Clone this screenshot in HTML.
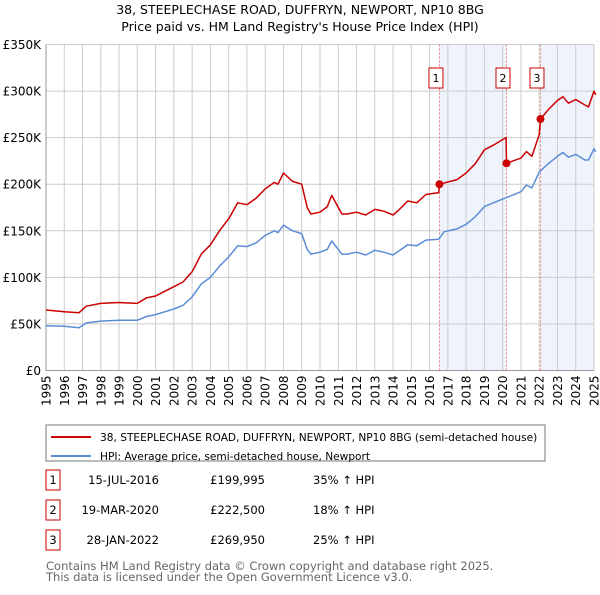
<!DOCTYPE html>
<html><head><meta charset="utf-8"><style>
body{margin:0;background:#fff;font-family:"Liberation Sans","DejaVu Sans",sans-serif;}
svg text{font-family:"DejaVu Sans","Liberation Sans",sans-serif;}
</style></head><body>
<svg id="c" width="600" height="590" viewBox="0 0 600 590" xmlns="http://www.w3.org/2000/svg">
<text x="300" y="14" text-anchor="middle" font-size="12.5">38, STEEPLECHASE ROAD, DUFFRYN, NEWPORT, NP10 8BG</text>
<text x="300" y="31" text-anchor="middle" font-size="12.5">Price paid vs. HM Land Registry's House Price Index (HPI)</text>
<g id="plot"></g>
<rect x="46" y="425" width="499" height="36" fill="#fff" stroke="#777"/>
<line x1="51" y1="437" x2="91" y2="437" stroke="#cc0000" stroke-width="2"/>
<text x="100" y="441" font-size="10.6">38, STEEPLECHASE ROAD, DUFFRYN, NEWPORT, NP10 8BG (semi-detached house)</text>
<line x1="51" y1="456" x2="91" y2="456" stroke="#5b8dd6" stroke-width="2"/>
<text x="100" y="460" font-size="10.6">HPI: Average price, semi-detached house, Newport</text>
<g id="rows" font-size="11.5"></g>
<text x="46" y="570" font-size="11.5" fill="#666">Contains HM Land Registry data © Crown copyright and database right 2025.</text>
<text x="46" y="581" font-size="11.5" fill="#666">This data is licensed under the Open Government Licence v3.0.</text>
</svg>
<script>
const yTicks=[0,50,100,150,200,250,300,350];
const years=[1995,1996,1997,1998,1999,2000,2001,2002,2003,2004,2005,2006,2007,2008,2009,2010,2011,2012,2013,2014,2015,2016,2017,2018,2019,2020,2021,2022,2023,2024,2025];
const hpiT=[1995,1996,1996.8,1997.2,1998,1999,2000,2000.5,2001,2001.5,2002,2002.5,2003,2003.5,2004,2004.5,2005,2005.5,2006,2006.5,2007,2007.5,2007.7,2008,2008.5,2009,2009.3,2009.5,2010,2010.4,2010.64,2011.2,2011.5,2012,2012.5,2013,2013.5,2014,2014.3,2014.8,2015.3,2015.8,2016.5,2016.8,2017.5,2018,2018.5,2019,2019.5,2020,2020.5,2021,2021.3,2021.6,2022,2022.5,2023,2023.3,2023.6,2024,2024.5,2024.7,2025,2025.1];
const hpiV=[48,47.5,46,51,53,54,54,58,60,63,66,70,79,93,100,112,122,134,133,137,145,150,148,156,150,147,130,125,127,130,139,125,125,127,124,129,127,124,128,135,134,140,141,149,152,157,165,176,180,184,188,192,199,196,213,222,230,234,229,232,226,226,238,235];
const redT=[1995,1996,1996.8,1997.2,1998,1999,2000,2000.5,2001,2001.5,2002,2002.5,2003,2003.5,2004,2004.5,2005,2005.5,2006,2006.5,2007,2007.5,2007.7,2008,2008.5,2009,2009.3,2009.5,2010,2010.4,2010.64,2011.2,2011.5,2012,2012.5,2013,2013.5,2014,2014.3,2014.8,2015.3,2015.8,2016.5,2016.54,2017.5,2018,2018.5,2019,2019.5,2020,2020.19,2020.21,2021,2021.3,2021.6,2022,2022.07,2022.5,2023,2023.3,2023.6,2024,2024.5,2024.7,2025,2025.1];
const redV=[65,63,62,69,72,73,72,78,80,85,90,95,106,125,135,150,163,180,178,185,195,202,200,212,203,200,175,168,170,176,188,168,168,170,167,173,171,167,172,182,180,189,191,200,205,212,222,237,242,248,250,222.5,228,235,230,253,270,280,290,294,287,291,285,283,300,296];
const saleT=[2016.54,2020.21,2022.07];
const saleV=[199.995,222.5,269.95];
const saleLabels=["1","2","3"];
const saleDates=["15-JUL-2016","19-MAR-2020","28-JAN-2022"];
const salePrices=["£199,995","£222,500","£269,950"];
const saleHpi=["35% ↑ HPI","18% ↑ HPI","25% ↑ HPI"];
const NS="http://www.w3.org/2000/svg";
const X0=46,X1=594,Y0=370.5,Y1=44.5;
const xs=t=>X0+(t-1995)/30*(X1-X0);
const ys=v=>Y0-v/350*(Y0-Y1);
function mk(tag,attrs,parent){const e=document.createElementNS(NS,tag);for(const k in attrs)e.setAttribute(k,attrs[k]);parent.appendChild(e);return e;}
const g=document.getElementById('plot');
const shA=mk('rect',{x:xs(saleT[0]),y:Y1,width:xs(saleT[1])-xs(saleT[0]),height:Y0-Y1,fill:'#eef3fc'},g);


const shB=mk('rect',{x:xs(saleT[2]),y:Y1,width:X1-xs(saleT[2]),height:Y0-Y1,fill:'#eef3fc'},g);


yTicks.forEach(v=>{
 const l=mk('line',{x1:X0,x2:X1,y1:ys(v),y2:ys(v),stroke:'#cccccc'},g);
 
 
 const t=mk('text',{x:X0-5,y:ys(v)+4.5,'text-anchor':'end','font-size':'12'},g);
 t.textContent=v===0?'£0':'£'+v+'K';
 
 
});
years.forEach(y=>{
 const l=mk('line',{x1:xs(y),x2:xs(y),y1:Y1,y2:Y0,stroke:'#cccccc'},g);
 
 
 const t=mk('text',{x:0,y:0,'font-size':'12','text-anchor':'end',transform:`translate(${xs(y)+4.5},${Y0+5}) rotate(-90)`},g);
 t.textContent=y;
 
 
});
const ax=mk('path',{d:`M${X0},${Y1}V${Y0}H${X1}`,stroke:'#999',fill:'none'},g);


saleT.forEach((t,i)=>{
 const l=mk('line',{x1:xs(t),x2:xs(t),y1:Y1,y2:Y0,stroke:'#e06060','stroke-dasharray':'2,2','stroke-width':'0.8'},g);
 
 
});
function line(T,V,col,name){
 const d=T.map((t,i)=>(i?'L':'M')+xs(t).toFixed(1)+','+ys(V[i]).toFixed(1)).join('');
 const p=mk('path',{d:d,stroke:col,'stroke-width':'1.5',fill:'none','stroke-linejoin':'round'},g);
 
 
}
line(hpiT,hpiV,'#5b8dd6','hpi-line');
line(redT,redV,'#cc0000','property-price-line');
saleT.forEach((t,i)=>{
 const c=mk('circle',{cx:xs(t),cy:ys(saleV[i]),r:4,fill:'#cc0000'},g);
 
 
 const r=mk('rect',{x:xs(t)-10.5,y:68,width:14,height:20,fill:'#fff',stroke:'#cc0000'},g);
 
 
 const tx=mk('text',{x:xs(t)-3.5,y:82,'text-anchor':'middle','font-size':'11'},g);
 tx.textContent=saleLabels[i];
 
 
});
const rows=document.getElementById('rows');
saleDates.forEach((d,i)=>{
 const y=483+i*30;
 const r=mk('rect',{x:46,y:y-13,width:14,height:20,fill:'#fff',stroke:'#cc0000'},rows);
 
 
 const a=mk('text',{x:53,y:y+1,'text-anchor':'middle'},rows);a.textContent=saleLabels[i];
 
 
 const b=mk('text',{x:159,y:y+1,'text-anchor':'end'},rows);b.textContent=d;
 
 
 const c=mk('text',{x:265,y:y+1,'text-anchor':'end'},rows);c.textContent=salePrices[i];
 
 
 const e=mk('text',{x:313,y:y+1},rows);e.textContent=saleHpi[i];
 
 
});
</script>
</body></html>
